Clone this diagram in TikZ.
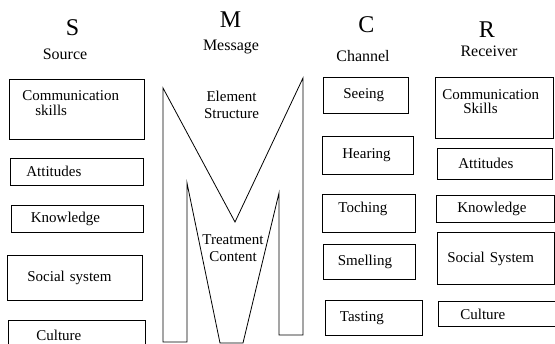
\documentclass[tikz,border=0pt]{standalone}
\usepackage{fontspec}
\setmainfont{Liberation Serif}
\usetikzlibrary{positioning}

\begin{document}
\begin{tikzpicture}[
  x=1pt, y=-1pt,
  node distance=18pt,
  letter/.style={inner sep=0pt, font=\fontsize{24}{24}\selectfont},
  head/.style={inner sep=0pt, font=\fontsize{16}{16}\selectfont},
  box/.style={rectangle, draw, line width=0.8pt, inner sep=0pt, align=left, font=\fontsize{15}{14.5}\selectfont},
  mtext/.style={inner sep=0pt, align=center, font=\fontsize{15}{17}\selectfont}
]
\useasboundingbox (0,0) rectangle (555,344);

% column heads
\node[letter] (sletter) at (72.5,28) {S};
\node[head] (source) at (65,54) {Source};
\node[letter] (mletter) at (230.5,20) {M};
\node[head] (message) at (231,47) {Message};
\node[letter] (cletter) at (366.5,25) {C};
\node[head] (channel) at (363,56) {Channel};
\node[letter] (rletter) at (487,30) {R};
\node[head] (receiver) at (489,51) {Receiver};

% source
\node[box, text width=135pt, minimum height=60pt, text depth=27pt, anchor=north west] (sskills) at (9,79) {\hspace*{13pt}Communication\\\hspace*{26pt}skills};
\node[box, text width=133pt, minimum height=27pt, below=18pt of sskills] (satt) {\hspace*{16pt}Attitudes};
\node[box, text width=132pt, minimum height=27pt, below=19pt of satt] (sknow) {\hspace*{20pt}Knowledge};
\node[box, text width=135pt, minimum height=45pt, below=23pt of sknow, xshift=-2pt] (ssocial) {\hspace*{20pt}Social system};
\node[box, text width=137pt, minimum height=30pt, below=19pt of ssocial, xshift=2pt] (sculture) {\hspace*{28pt}Culture};

% message
\draw[line width=0.8pt] (163,88) -- (235,222) -- (303,78) -- (303,335) -- (279,335) -- (279,193)
  -- (243,343) -- (220,343) -- (187,183) -- (187,342) -- (163,342) -- cycle;
\node[mtext] (mstructure) at (231.5,104.5) {Element\\Structure};
\node[mtext] (mcontent) at (233,248) {Treatment\\Content};

% channel
\node[box, text width=85pt, minimum height=36pt, anchor=north west] (cseeing) at (323,77) {\hspace*{20pt}Seeing};
\node[box, text width=91pt, minimum height=38pt, below=22pt of cseeing, xshift=2pt] (chearing) {\hspace*{20pt}Hearing};
\node[box, text width=93pt, minimum height=38pt, text depth=11pt, below=19pt of chearing, xshift=1pt] (ctoching) {\hspace*{16pt}Toching};
\node[box, text width=92pt, minimum height=35pt, below=12pt of ctoching] (csmelling) {\hspace*{15pt}Smelling};
\node[box, text width=97pt, minimum height=35pt, below=20pt of csmelling, xshift=4.5pt] (ctasting) {\hspace*{15pt}Tasting};

% receiver
\node[box, text width=118pt, minimum height=61pt, text depth=27pt, anchor=north west] (rskills) at (435,77) {\hspace*{7pt}Communication\\\hspace*{28pt}Skills};
\node[box, text width=115pt, minimum height=31pt, below=9pt of rskills, xshift=0.5pt] (ratt) {\hspace*{21pt}Attitudes};
\node[box, text width=118pt, minimum height=27pt, below=15pt of ratt, xshift=0.5pt] (rknow) {\hspace*{21pt}Knowledge};
\node[box, text width=117pt, minimum height=52pt, below=10pt of rknow, xshift=0.5pt] (rsocial) {\hspace*{10pt}Social System};
\node[box, text width=117pt, minimum height=25pt, below=16pt of rsocial, xshift=1pt] (rculture) {\hspace*{22pt}Culture};
\end{tikzpicture}
\end{document}
